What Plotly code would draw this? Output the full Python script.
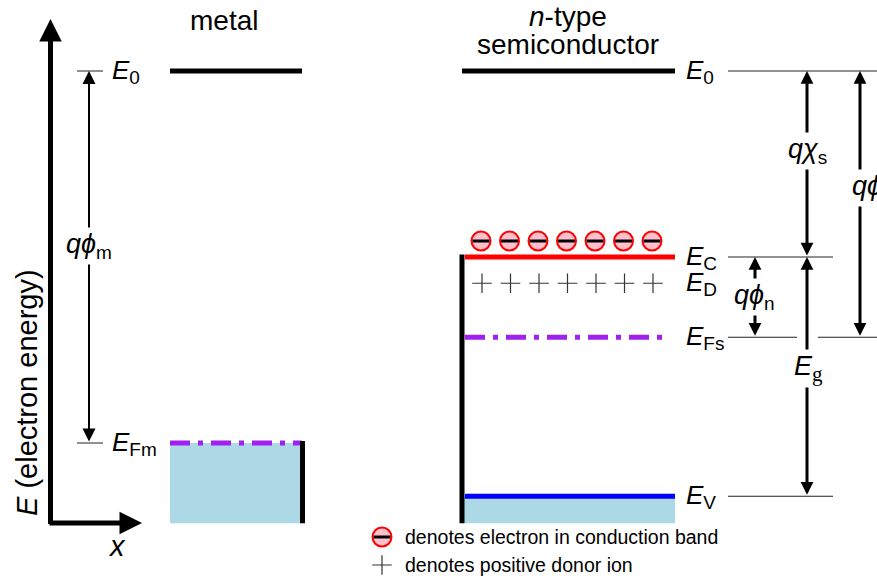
import plotly.graph_objects as go
import numpy as np

# ---------------- data ----------------
W, H = 877, 579
PX_PER_EV = 75.0          # vertical scale of the drawing
E0_PIX = 71.0             # pixel row of the vacuum level

level_names = ["E0", "EC", "ED", "EFs", "EV", "EFm", "band_bottom"]
level_energy = [0.0, -2.48, -2.83, -3.55, -5.67, -4.96, -6.03]   # eV relative to vacuum
L = dict(zip(level_names, level_energy))

n_electrons = 7
n_donors = 7

metal_x = [170, 302]
semi_x = [463, 675]

legend_texts = ["denotes electron in conduction band", "denotes positive donor ion"]


def py(p):
    """pixel row -> energy coordinate"""
    return (E0_PIX - p) / PX_PER_EV


FONT = "Liberation Sans, Arial, sans-serif"
PURPLE = "#A020F0"
LIGHTBLUE = "#ADD8E6"
DASHDOT = "20px,8px,5px,8px"

fig = go.Figure()
shapes = []
ann = []

def hline(x0, x1, y, color="black", width=5, dash=None):
    d = dict(color=color, width=width)
    if dash:
        d["dash"] = dash
    shapes.append(dict(type="line", xref="x", yref="y", x0=x0, x1=x1, y0=y, y1=y, line=d))

def vline(x, y0, y1, color="black", width=5):
    shapes.append(dict(type="line", xref="x", yref="y", x0=x, x1=x, y0=y0, y1=y1,
                       line=dict(color=color, width=width)))

# ---------- metal ----------
shapes.append(dict(type="rect", xref="x", yref="y", x0=metal_x[0], x1=metal_x[1],
                   y0=L["band_bottom"], y1=L["EFm"], fillcolor=LIGHTBLUE, line=dict(width=0)))
hline(metal_x[0], metal_x[1], L["E0"])
hline(metal_x[0], metal_x[1], L["EFm"], color=PURPLE, dash=DASHDOT)
vline(metal_x[1] + 0.5, L["band_bottom"], L["EFm"] + 2 / PX_PER_EV)

# ---------- semiconductor ----------
shapes.append(dict(type="rect", xref="x", yref="y", x0=semi_x[0], x1=semi_x[1],
                   y0=L["band_bottom"], y1=L["EV"], fillcolor=LIGHTBLUE, line=dict(width=0)))
hline(semi_x[0] - 1, semi_x[1], L["E0"])
hline(semi_x[0] + 2, semi_x[1], L["EC"], color="red")
hline(semi_x[0] + 2, semi_x[1] - 8, L["EFs"], color=PURPLE, dash=DASHDOT)
hline(semi_x[0] + 2, semi_x[1], L["EV"], color="blue")
vline(semi_x[0] - 1, L["band_bottom"], L["EC"] + 2.5 / PX_PER_EV)

# ---------- thin reference ticks ----------
TK = dict(color="#222", width=1)
hline(77, 103, L["E0"], **TK)
hline(77, 103, L["EFm"], **TK)
hline(728, 877, L["E0"], **TK)
hline(728, 833, L["EC"], **TK)
hline(728, 797, L["EFs"], **TK)
hline(818, 877, L["EFs"], **TK)
hline(728, 833, L["EV"], **TK)

# ---------- arrows ----------
def arrow(x, y, ax, ay, width, size, both=False):
    a = dict(x=x, y=y, ax=ax, ay=ay, xref="x", yref="y", axref="x", ayref="y",
             text="", showarrow=True, arrowhead=2, arrowsize=size, arrowwidth=width,
             arrowcolor="black", standoff=0, startstandoff=0)
    if both:
        a["arrowside"] = "end+start"
        a["startarrowhead"] = 2
        a["startarrowsize"] = size
    ann.append(a)

# energy / position axes
arrow(50.5, py(19), 50.5, py(525.5), 5, 0.9)
arrow(142, py(523), 48, py(523), 5, 0.9)
# qphi_m
arrow(89, L["E0"], 89, L["EFm"], 2, 1.3, both=True)
# qchi_s
arrow(807, L["E0"], 807, L["EC"], 3, 0.85, both=True)
# qphi_s
arrow(860, L["E0"], 860, L["EFs"], 3, 0.85, both=True)
# qphi_n
arrow(755, L["EC"], 755, L["EFs"], 3, 0.85, both=True)
# Eg
arrow(807, L["EC"], 807, L["EV"], 3, 0.85, both=True)

# ---------- labels ----------
def label(x, y, text, size=26, bg=None, xanchor="center", yanchor="middle", angle=0, family=FONT):
    a = dict(x=x, y=y, xref="x", yref="y", text=text, showarrow=False,
             font=dict(family=family, size=size, color="black"),
             xanchor=xanchor, yanchor=yanchor, textangle=angle)
    if bg:
        a["bgcolor"] = bg
        a["borderpad"] = 1
    ann.append(a)

def sub(s, size=19, family=None):
    st = "font-size:%dpx" % size
    if family:
        st += ";font-family:%s" % family
    return "<sub><span style='%s'>%s</span></sub>" % (st, s)

label(224, py(20), "metal", size=28)
label(568, py(16), "<i>n</i>-type", size=28)
label(568, py(44), "semiconductor", size=28)

label(110, L["E0"], "<i>E</i>" + sub("0"), xanchor="left")
label(110, L["EFm"], "<i>E</i>" + sub("Fm"), xanchor="left")
label(684, L["E0"], "<i>E</i>" + sub("0"), xanchor="left")
label(684, L["EC"], "<i>E</i>" + sub("C"), xanchor="left")
label(684, L["ED"], "<i>E</i>" + sub("D"), xanchor="left")
label(684, L["EFs"], "<i>E</i>" + sub("Fs"), xanchor="left")
label(684, L["EV"], "<i>E</i>" + sub("V"), xanchor="left")

label(89, py(246), "<i>qϕ</i>" + sub("m"), size=27, bg="white")
label(807, py(151), "<i>qχ</i>" + sub("s"), size=27, bg="white")
label(872, py(188), "<i>qϕ</i>" + sub("s"), size=27, bg="white")
label(754, py(297), "<i>qϕ</i>" + sub("n"), size=27, bg="white")
label(808, py(368), "<i>E</i>" + sub("g", 21, "Liberation Serif"), size=27, bg="white")

label(27, py(393), "<i>E</i> (electron energy)", size=29, angle=-90)
label(117, py(546), "<i>x</i>", size=29)

label(403, py(537), legend_texts[0], size=19.5, xanchor="left")
label(403, py(565), legend_texts[1], size=19.5, xanchor="left")

# ---------- electrons & donors ----------
ex = list(np.linspace(semi_x[0] + 18, semi_x[1] - 23, n_electrons))
dx = list(np.linspace(semi_x[0] + 19, semi_x[1] - 22, n_donors))
ey = L["EC"] + 16 / PX_PER_EV

leg_x = 382
leg_y = [py(537), py(565)]

fig.add_trace(go.Scatter(
    x=ex + [leg_x], y=[ey] * n_electrons + [leg_y[0]], mode="markers",
    marker=dict(symbol="circle", size=19, color="#FFC0CB", line=dict(color="red", width=2)),
    hoverinfo="skip"))
fig.add_trace(go.Scatter(
    x=ex + [leg_x], y=[ey] * n_electrons + [leg_y[0]], mode="markers",
    marker=dict(symbol="line-ew", size=12, color="black", line=dict(color="black", width=3)),
    hoverinfo="skip"))
fig.add_trace(go.Scatter(
    x=dx + [leg_x], y=[L["ED"]] * n_donors + [leg_y[1]], mode="markers",
    marker=dict(symbol="cross-thin", size=14, color="#333", line=dict(color="#333", width=1.2)),
    hoverinfo="skip"))

fig.update_layout(
    width=W, height=H, margin=dict(l=0, r=0, t=0, b=0),
    paper_bgcolor="white", plot_bgcolor="white", showlegend=False,
    xaxis=dict(range=[0, W], visible=False, fixedrange=True),
    yaxis=dict(range=[py(H), py(0)], visible=False, fixedrange=True),
    shapes=shapes, annotations=ann,
)

fig.write_html("out.html")
